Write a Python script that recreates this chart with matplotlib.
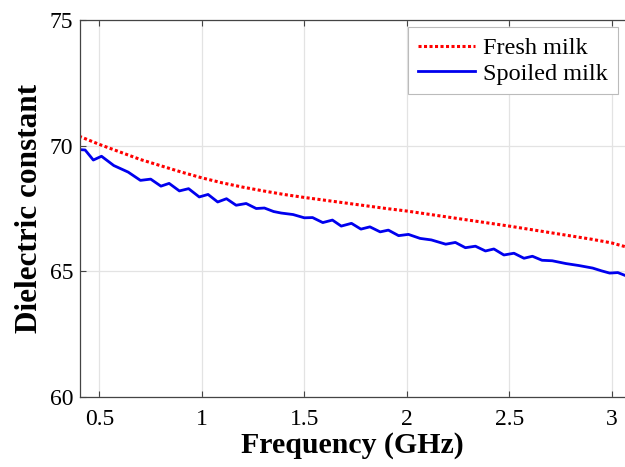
import matplotlib.pyplot as plt

# frequency (GHz) and dielectric constant
fresh_freq = [0.40, 0.50, 0.60, 0.70, 0.80, 0.90, 1.00, 1.10, 1.20, 1.30, 1.40,
              1.50, 1.60, 1.70, 1.80, 1.90, 2.00, 2.10, 2.20, 2.30, 2.40, 2.50,
              2.60, 2.70, 2.80, 2.90, 3.00, 3.08]
fresh_eps = [70.38, 70.05, 69.75, 69.45, 69.20, 68.95, 68.72, 68.52, 68.35, 68.20, 68.06,
             67.94, 67.83, 67.72, 67.61, 67.50, 67.40, 67.28, 67.16, 67.04, 66.92, 66.80,
             66.67, 66.54, 66.41, 66.28, 66.13, 65.95]

spoiled_freq = [0.41, 0.43, 0.47, 0.51, 0.57, 0.64, 0.70, 0.75, 0.80, 0.84,
                0.89, 0.935, 0.987, 1.03, 1.077, 1.12, 1.167, 1.216, 1.265, 1.305,
                1.35, 1.387, 1.445, 1.50, 1.54, 1.59, 1.637, 1.68, 1.73, 1.776,
                1.82, 1.87, 1.91, 1.96, 2.008, 2.065, 2.12, 2.19, 2.237, 2.286,
                2.335, 2.384, 2.425, 2.474, 2.523, 2.572, 2.613, 2.66, 2.71, 2.776,
                2.84, 2.907, 2.95, 2.99, 3.03, 3.08]
spoiled_eps = [69.84, 69.83, 69.43, 69.58, 69.21, 68.95, 68.62, 68.67, 68.39, 68.50,
               68.20, 68.29, 67.96, 68.06, 67.76, 67.89, 67.63, 67.70, 67.50, 67.52,
               67.38, 67.32, 67.26, 67.13, 67.14, 66.94, 67.04, 66.80, 66.91, 66.68,
               66.77, 66.57, 66.64, 66.42, 66.47, 66.31, 66.25, 66.08, 66.15, 65.94,
               66.00, 65.81, 65.89, 65.65, 65.72, 65.52, 65.60, 65.44, 65.42, 65.31,
               65.23, 65.13, 65.02, 64.93, 64.95, 64.79]

xticks = [0.5, 1, 1.5, 2, 2.5, 3]
xticklabels = ['0.5', '1', '1.5', '2', '2.5', '3']
yticks = [60, 65, 70, 75]

plt.rcParams['font.family'] = ['Liberation Serif', 'DejaVu Serif']

fig = plt.figure(figsize=(6.25, 4.67), dpi=100)
ax = fig.add_axes([0.128, 0.150, 0.872, 0.807])

ax.plot(fresh_freq, fresh_eps, color='red', linestyle=(0, (1, 0.8)), linewidth=2.2, label='Fresh milk')
ax.plot(spoiled_freq, spoiled_eps, color='#0000ee', linestyle='-', linewidth=2.0, label='Spoiled milk')

ax.set_xlim(0.405, 3.065)
ax.set_ylim(60, 75)
ax.set_xticks(xticks)
ax.set_xticklabels(xticklabels)
ax.set_yticks(yticks)
ax.tick_params(direction='in', labelsize=17, top=True, length=4, width=0.8, color='#444444')
ax.tick_params(axis='x', pad=9)
ax.tick_params(axis='y', pad=5)
ax.grid(True, color='#e3e3e3', linewidth=0.9)
ax.set_axisbelow(True)

for s in ['left', 'bottom', 'top']:
    ax.spines[s].set_color('#444444')
    ax.spines[s].set_linewidth(0.9)
ax.spines['right'].set_visible(False)

ax.set_xlabel('Frequency (GHz)', fontsize=21.5, fontweight='bold', labelpad=1)
ax.set_ylabel('Dielectric constant', fontsize=22.5, fontweight='bold', labelpad=4)

leg = ax.legend(loc='upper right', fontsize=17.5, fancybox=False, framealpha=1,
                edgecolor='#bbbbbb', handlelength=2.35, borderaxespad=0.3,
                labelspacing=0.15, handletextpad=0.35, borderpad=0.4)
leg.get_frame().set_linewidth(0.8)

fig.savefig('out.png', dpi=100)
